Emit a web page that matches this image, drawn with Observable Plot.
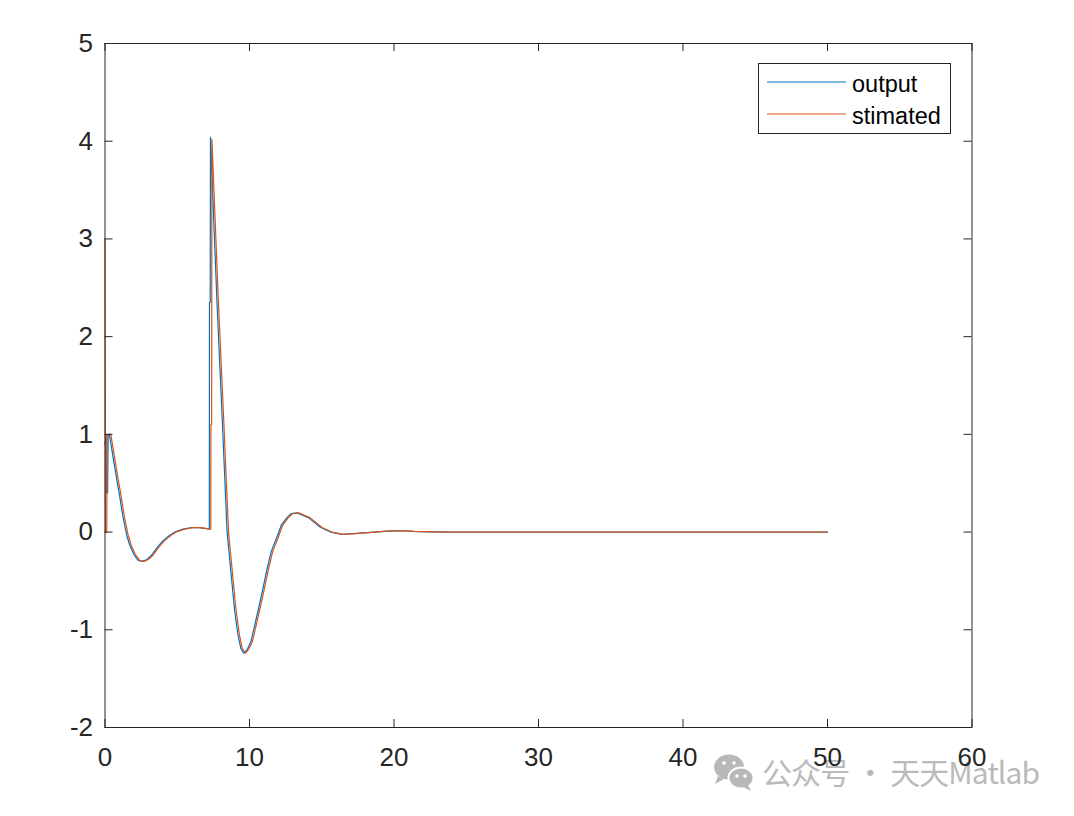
<!DOCTYPE html>
<html>
<head>
<meta charset="utf-8">
<script src="https://cdn.jsdelivr.net/npm/d3@7"></script>
<script src="https://cdn.jsdelivr.net/npm/@observablehq/plot@0.6"></script>
<style>
  html, body { margin: 0; padding: 0; background: #fff; }
  #chart { position: relative; width: 1074px; height: 816px; }
</style>
</head>
<body>
<div id="chart"></div>
<script>
// ---- data ----
const outputT = [0, 0.08, 0.1, 0.18, 0.22, 0.3, 0.5, 0.8, 1.0, 1.25, 1.5, 1.7, 2.0, 2.3, 2.6, 2.9, 3.2, 3.6, 4.0, 4.5, 4.9, 5.4, 6.0, 6.5, 7.0, 7.22, 7.23, 7.28, 7.3, 7.75, 8.1, 8.45, 8.74, 8.97, 9.2, 9.4, 9.6, 9.85, 10.1, 10.6, 10.9, 11.2, 11.5, 11.9, 12.2, 12.6, 12.9, 13.3, 14.1, 14.9, 15.6, 16.4, 17.7, 18.6, 19.5, 20.5, 21.3, 22.5, 24, 30, 40, 50];
const outputY = [0.9, 1.0, 0.4, 0.4, 1.0, 1.0, 0.82, 0.55, 0.38, 0.15, -0.03, -0.13, -0.23, -0.29, -0.30, -0.28, -0.24, -0.16, -0.09, -0.03, 0.005, 0.03, 0.045, 0.045, 0.035, 0.03, 2.35, 2.35, 4.04, 2.35, 1.2, 0.0, -0.45, -0.8, -1.05, -1.19, -1.24, -1.2, -1.12, -0.8, -0.6, -0.39, -0.2, -0.05, 0.07, 0.15, 0.19, 0.196, 0.145, 0.05, 0.0, -0.024, -0.01, 0.0, 0.01, 0.015, 0.008, 0.003, 0, 0, 0, 0];

const estT = [0, 0.03, 0.12, 0.15, 0.3, 0.4, 0.6, 0.9, 1.1, 1.35, 1.6, 1.8, 2.1, 2.4, 2.7, 3.0, 3.3, 3.7, 4.1, 4.6, 5.0, 5.5, 6.1, 6.6, 7.1, 7.32, 7.33, 7.38, 7.4, 7.85, 8.2, 8.55, 8.84, 9.07, 9.3, 9.5, 9.7, 9.95, 10.2, 10.7, 11.0, 11.3, 11.6, 12.0, 12.3, 12.7, 13.0, 13.4, 14.2, 15.0, 15.7, 16.5, 17.8, 18.7, 19.6, 20.6, 21.4, 22.6, 24.1, 30, 40, 50];
const estY = [3.0, 0.0, 0.0, 0.98, 1.0, 1.0, 0.82, 0.55, 0.38, 0.15, -0.03, -0.13, -0.23, -0.29, -0.30, -0.28, -0.24, -0.16, -0.09, -0.03, 0.005, 0.03, 0.045, 0.045, 0.035, 0.03, 1.1, 1.1, 4.02, 2.35, 1.2, 0.0, -0.45, -0.8, -1.05, -1.19, -1.24, -1.2, -1.12, -0.8, -0.6, -0.39, -0.2, -0.05, 0.07, 0.15, 0.19, 0.196, 0.145, 0.05, 0.0, -0.024, -0.01, 0.0, 0.01, 0.015, 0.008, 0.003, 0, 0, 0, 0];

const seriesNames = ["output", "stimated"];
const seriesColors = ["#0072BD", "#D95319"];
const xTicks = [0, 10, 20, 30, 40, 50, 60];
const yTicks = [-2, -1, 0, 1, 2, 3, 4, 5];
const watermark = "公众号 · 天天Matlab";

// ---- build tables ----
const outputData = outputT.map((t, i) => ({t, v: outputY[i]}));
const estData = estT.map((t, i) => ({t, v: estY[i]}));

const W = 1074, H = 816;
const mL = 104.5, mR = 102.5, mT = 43, mB = 89;
const fw = W - mL - mR, fh = H - mT - mB;
const tickLen = 8;
const axisColor = "#262626";
const font = "'Liberation Sans', Arial, Helvetica, sans-serif";

const plot = Plot.plot({
  width: W,
  height: H,
  marginLeft: mL,
  marginRight: mR,
  marginTop: mT,
  marginBottom: mB,
  style: {background: "transparent", fontFamily: font, color: axisColor},
  x: {domain: [0, 60]},
  y: {domain: [-2, 5]},
  marks: [
    Plot.line(outputData, {x: "t", y: "v", stroke: seriesColors[0], strokeWidth: 1.2}),
    Plot.line(estData, {x: "t", y: "v", stroke: seriesColors[1], strokeWidth: 1.2}),
    // inward tick marks on all four sides
    Plot.ruleX(xTicks, {x: d => d, insetTop: fh - tickLen, stroke: axisColor, strokeWidth: 1}),
    Plot.ruleX(xTicks, {x: d => d, insetBottom: fh - tickLen, stroke: axisColor, strokeWidth: 1}),
    Plot.ruleY(yTicks, {y: d => d, insetRight: fw - tickLen, stroke: axisColor, strokeWidth: 1}),
    Plot.ruleY(yTicks, {y: d => d, insetLeft: fw - tickLen, stroke: axisColor, strokeWidth: 1}),
    Plot.frame({stroke: axisColor, strokeWidth: 1}),
    Plot.axisX({ticks: xTicks, tickSize: 0, tickPadding: 20, fontSize: 26, label: null, fill: axisColor}),
    Plot.axisY({ticks: yTicks, tickSize: 0, tickPadding: 12, fontSize: 26, label: null, fill: axisColor, tickFormat: d => d < 0 ? "-" + Math.abs(d) : String(d)})
  ]
});

document.getElementById("chart").appendChild(plot);

// ---- watermark (behind everything) ----
const svg = d3.select(plot);
const wm = svg.insert("g", ":first-child").attr("class", "watermark");
wm.append("rect").attr("x", 0).attr("y", 0).attr("width", W).attr("height", H).attr("fill", "#fff");
const gIcon = wm.append("g").attr("fill", "#b8b8b8");
gIcon.append("ellipse").attr("cx", 729).attr("cy", 767).attr("rx", 15).attr("ry", 12.5);
gIcon.append("path").attr("d", "M718,776 L715,784 L724,779 Z");
gIcon.append("ellipse").attr("cx", 741).attr("cy", 778).attr("rx", 12.5).attr("ry", 10.5).attr("stroke", "#fff").attr("stroke-width", 2);
gIcon.append("path").attr("d", "M748,785 L751,791 L743,787 Z");
const eyes = wm.append("g").attr("fill", "#fff");
[[724, 763], [734, 763], [737, 776], [745, 776]].forEach(([cx, cy]) => eyes.append("circle").attr("cx", cx).attr("cy", cy).attr("r", 1.8));
wm.append("text")
  .attr("x", 762).attr("y", 784)
  .attr("text-anchor", "start")
  .attr("font-family", "'Noto Sans CJK SC', 'Noto Sans', sans-serif")
  .attr("font-size", 30)
  .attr("textLength", 278)
  .attr("lengthAdjust", "spacing")
  .attr("fill", "#bababa")
  .text(watermark);

// ---- legend ----
const lg = svg.append("g").attr("class", "legend").attr("font-family", font).attr("text-anchor", "start");
lg.append("rect").attr("x", 758.5).attr("y", 63.5).attr("width", 192).attr("height", 70)
  .attr("fill", "#fff").attr("stroke", axisColor).attr("stroke-width", 1);
seriesNames.forEach((name, i) => {
  const y = 82 + i * 32;
  lg.append("line").attr("x1", 767).attr("x2", 846).attr("y1", y).attr("y2", y)
    .attr("stroke", seriesColors[i]).attr("stroke-width", 1.2);
  lg.append("text").attr("x", 852).attr("y", y + 2).attr("dy", "0.35em")
    .attr("text-anchor", "start")
    .attr("font-size", 23.5).attr("fill", "#000").text(name);
});
</script>
</body>
</html>
